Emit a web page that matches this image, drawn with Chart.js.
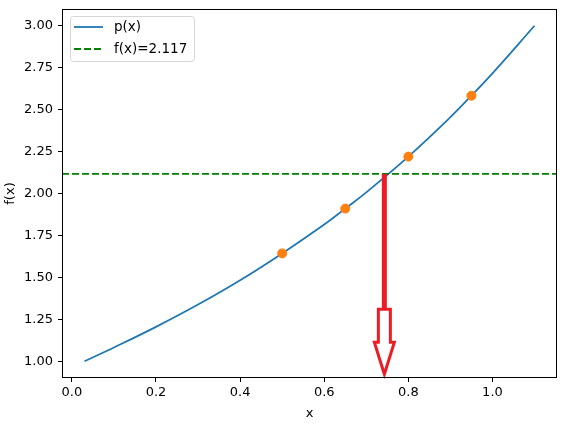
<!DOCTYPE html>
<html>
<head>
<meta charset="utf-8">
<script src="https://cdn.jsdelivr.net/npm/chart.js@4"></script>
<style>
  body { margin: 0; background: #fff; }
  #wrap { width: 565px; height: 425px; }
</style>
</head>
<body>
<div id="wrap"><canvas id="chart"></canvas></div>
<script>
// ======= DATA =======
const curveX = [0.03, 0.1, 0.2, 0.3, 0.4, 0.5, 0.6, 0.65, 0.7, 0.8, 0.9, 0.95, 1.0, 1.1];
const curveY = [1.0, 1.082, 1.205, 1.338, 1.483, 1.643, 1.815, 1.91, 2.007, 2.22, 2.455, 2.583, 2.716, 3.0];
const nodeX = [0.5, 0.65, 0.8, 0.95];
const nodeY = [1.643, 1.91, 2.22, 2.583];
const fLevel = 2.117;
const xTicks = [0.0, 0.2, 0.4, 0.6, 0.8, 1.0];
const yTicks = [1.0, 1.25, 1.5, 1.75, 2.0, 2.25, 2.5, 2.75, 3.0];
const xMin = -0.0235, xMax = 1.1535;
const yMin = 0.9, yMax = 3.1;
// red arrow: where it starts and where its tip ends
const arrowX = 0.743;
const arrowTipY = 0.923;

const q = (s) => document.querySelector(s);
const font = { family: "'DejaVu Sans', sans-serif", size: 13 };

// ======= PLUGINS =======
const frame = {
  id: "frame",
  afterDatasetsDraw(chart) {
    const { ctx, chartArea: a, scales } = chart;
    ctx.save();

    // red arrow
    const px = scales.x.getPixelForValue(arrowX);
    const top = scales.y.getPixelForValue(fLevel);
    const tip = scales.y.getPixelForValue(arrowTipY);
    const headBase = tip - 32;
    const stubTop = headBase - 33;
    ctx.fillStyle = "#ed1c24";
    ctx.fillRect(px - 2.5, top, 5, stubTop - top + 2);
    ctx.beginPath();
    ctx.moveTo(px - 6, stubTop);
    ctx.lineTo(px - 6, headBase);
    ctx.lineTo(px - 10, headBase);
    ctx.lineTo(px, tip);
    ctx.lineTo(px + 10, headBase);
    ctx.lineTo(px + 6, headBase);
    ctx.lineTo(px + 6, stubTop);
    ctx.closePath();
    ctx.fillStyle = "#fff";
    ctx.fill();
    ctx.lineWidth = 3;
    ctx.lineJoin = "miter";
    ctx.strokeStyle = "#ed1c24";
    ctx.stroke();

    // spines
    ctx.strokeStyle = "#000";
    ctx.lineWidth = 1;
    ctx.strokeRect(a.left + 0.5, a.top + 0.5, a.right - a.left - 1, a.bottom - a.top - 1);

    // legend box
    const lx = 70, ly = 16;
    ctx.beginPath();
    ctx.roundRect(lx + 0.5, ly + 0.5, 124, 45, 3);
    ctx.fillStyle = "rgba(255,255,255,0.8)";
    ctx.fill();
    ctx.strokeStyle = "#d6d6d6";
    ctx.stroke();

    ctx.lineWidth = 1.8;
    ctx.strokeStyle = "#1f77b4";
    ctx.beginPath();
    ctx.moveTo(lx + 4, ly + 11);
    ctx.lineTo(lx + 33, ly + 11);
    ctx.stroke();
    ctx.strokeStyle = "#008000";
    ctx.setLineDash([7, 3]);
    ctx.beginPath();
    ctx.moveTo(lx + 4, ly + 33);
    ctx.lineTo(lx + 33, ly + 33);
    ctx.stroke();
    ctx.setLineDash([]);

    ctx.fillStyle = "#000";
    ctx.font = "13.5px 'DejaVu Sans', sans-serif";
    ctx.textBaseline = "middle";
    ctx.fillText("p(x)", lx + 44, ly + 11);
    ctx.fillText("f(x)=" + fLevel, lx + 44, ly + 33);
    ctx.restore();
  },
};

// ======= CHART =======
new Chart(q("#chart"), {
  type: "scatter",
  data: {
    datasets: [
      {
        label: "p(x)",
        data: curveX.map((x, i) => ({ x, y: curveY[i] })),
        showLine: true,
        borderColor: "#1f77b4",
        borderWidth: 1.8,
        pointRadius: 0,
        tension: 0.4,
        order: 2,
      },
      {
        label: "f(x)=" + fLevel,
        data: [{ x: xMin, y: fLevel }, { x: xMax, y: fLevel }],
        showLine: true,
        borderColor: "#008000",
        borderWidth: 1.8,
        borderDash: [7, 3],
        pointRadius: 0,
        order: 1,
      },
      {
        data: nodeX.map((x, i) => ({ x, y: nodeY[i] })),
        backgroundColor: "#ff7f0e",
        borderColor: "#ff7f0e",
        pointRadius: 4.5,
        order: 0,
      },
    ],
  },
  options: {
    responsive: true,
    maintainAspectRatio: false,
    animation: false,
    layout: { padding: { left: 0, right: 8, top: 9, bottom: 0 } },
    plugins: { legend: { display: false }, tooltip: { enabled: false } },
    scales: {
      x: {
        type: "linear",
        min: xMin,
        max: xMax,
        afterBuildTicks: (s) => (s.ticks = xTicks.map((value) => ({ value }))),
        afterFit: (s) => {
          s.height = 47;
          s.paddingLeft = 0;
          s.paddingRight = 0;
        },
        grid: { drawOnChartArea: false, tickLength: 4, tickColor: "#000" },
        border: { display: false },
        ticks: { color: "#000", font, padding: 3, callback: (v) => v.toFixed(1) },
        title: { display: true, text: "x", color: "#000", font, padding: { top: 0, bottom: 4 } },
      },
      y: {
        min: yMin,
        max: yMax,
        afterBuildTicks: (s) => (s.ticks = yTicks.map((value) => ({ value }))),
        afterFit: (s) => {
          s.width = 62;
          s.paddingTop = 0;
          s.paddingBottom = 0;
        },
        grid: { drawOnChartArea: false, tickLength: 4, tickColor: "#000" },
        border: { display: false },
        ticks: { color: "#000", font, padding: 5, callback: (v) => v.toFixed(2) },
        title: { display: true, text: "f(x)", color: "#000", font, padding: { top: 3, bottom: 0 } },
      },
    },
  },
  plugins: [frame],
});
</script>
</body>
</html>
